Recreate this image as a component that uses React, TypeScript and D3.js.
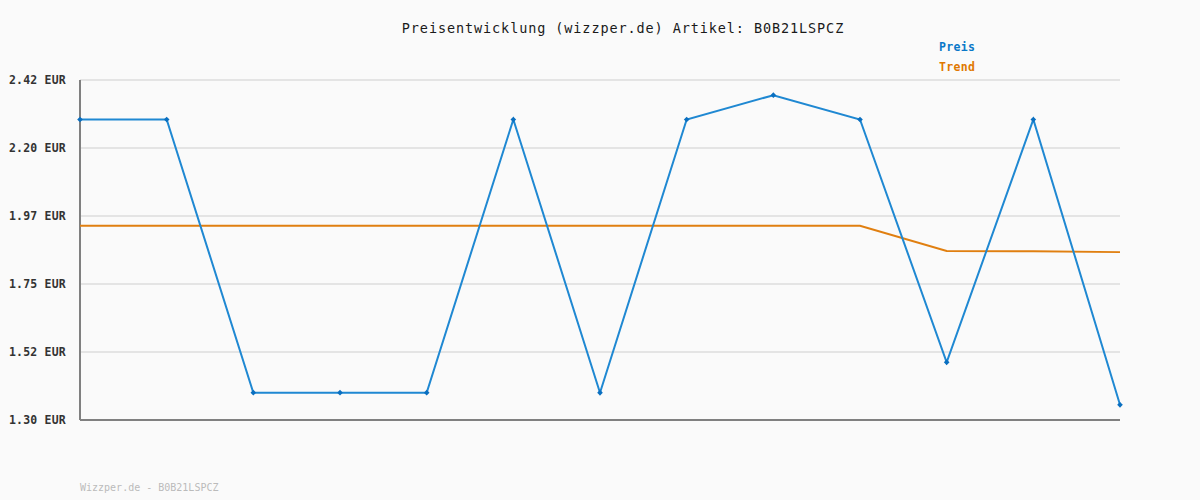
import React from "react";
import * as d3 from "d3";

const title = "Preisentwicklung (wizzper.de) Artikel: B0B21LSPCZ";
const footer = "Wizzper.de - B0B21LSPCZ";
const yTicks = [1.3, 1.524, 1.748, 1.972, 2.196, 2.42];
const yTickLabels = ["1.30 EUR", "1.52 EUR", "1.75 EUR", "1.97 EUR", "2.20 EUR", "2.42 EUR"];
const preis = [2.29, 2.29, 1.39, 1.39, 1.39, 2.29, 1.39, 2.29, 2.37, 2.29, 1.49, 2.29, 1.35];
const trend = [1.94, 1.94, 1.94, 1.94, 1.94, 1.94, 1.94, 1.94, 1.94, 1.94, 1.857, 1.856, 1.853];
const legend = [
  { name: "Preis", color: "#0a78c8" },
  { name: "Trend", color: "#e07800" },
];

export default function App() {
  const W = 1200, H = 500;
  const left = 80, right = 1120, top = 80, bottom = 420;
  const x = d3.scaleLinear().domain([0, preis.length - 1]).range([left, right]);
  const y = d3.scaleLinear().domain([1.3, 2.42]).range([bottom, top]);
  const line = d3.line<number>().x((_, i) => x(i)).y((d) => y(d));
  const mono = "'DejaVu Sans Mono', monospace";
  return (
    <div style={{ position: "absolute", left: 0, top: 0 }}>
      <svg width={W} height={H} style={{ display: "block", background: "#fafafa" }}>
        <rect x={0} y={0} width={W} height={H} fill="#fafafa" />
        <text x={623} y={33} textAnchor="middle" fontFamily={mono} fontSize={13.5} letterSpacing={0.9} fill="#1a1a1a">
          {title}
        </text>
        {legend.map((l, i) => (
          <text key={l.name} x={939} y={51 + i * 20} fontFamily={mono} fontSize={11.5} fontWeight="bold" letterSpacing={0.3} fill={l.color}>
            {l.name}
          </text>
        ))}
        {yTicks.map((t, i) => (
          <g key={i}>
            <line x1={left} x2={right} y1={y(t)} y2={y(t)} stroke="#e4e4e4" strokeWidth={2} />
            <text x={66} y={y(t) + 4} textAnchor="end" fontFamily={mono} fontSize={11.5} fontWeight="bold" letterSpacing={0.2} fill="#333">
              {yTickLabels[i]}
            </text>
          </g>
        ))}
        <line x1={left} x2={left} y1={top} y2={bottom} stroke="#808080" strokeWidth={2} />
        <line x1={left} x2={right} y1={bottom} y2={bottom} stroke="#808080" strokeWidth={2} />
        <path d={line(trend) || ""} fill="none" stroke="#e07f10" strokeWidth={2} />
        <path d={line(preis) || ""} fill="none" stroke="#1f88d2" strokeWidth={2} />
        {preis.map((v, i) => (
          <rect key={i} x={x(i) - 2} y={y(v) - 2} width={4} height={4} fill="#0a6fc0" transform={`rotate(45 ${x(i)} ${y(v)})`} />
        ))}
        <text x={80} y={491} fontFamily={mono} fontSize={10} fill="#bbbbbb">
          {footer}
        </text>
      </svg>
    </div>
  );
}
